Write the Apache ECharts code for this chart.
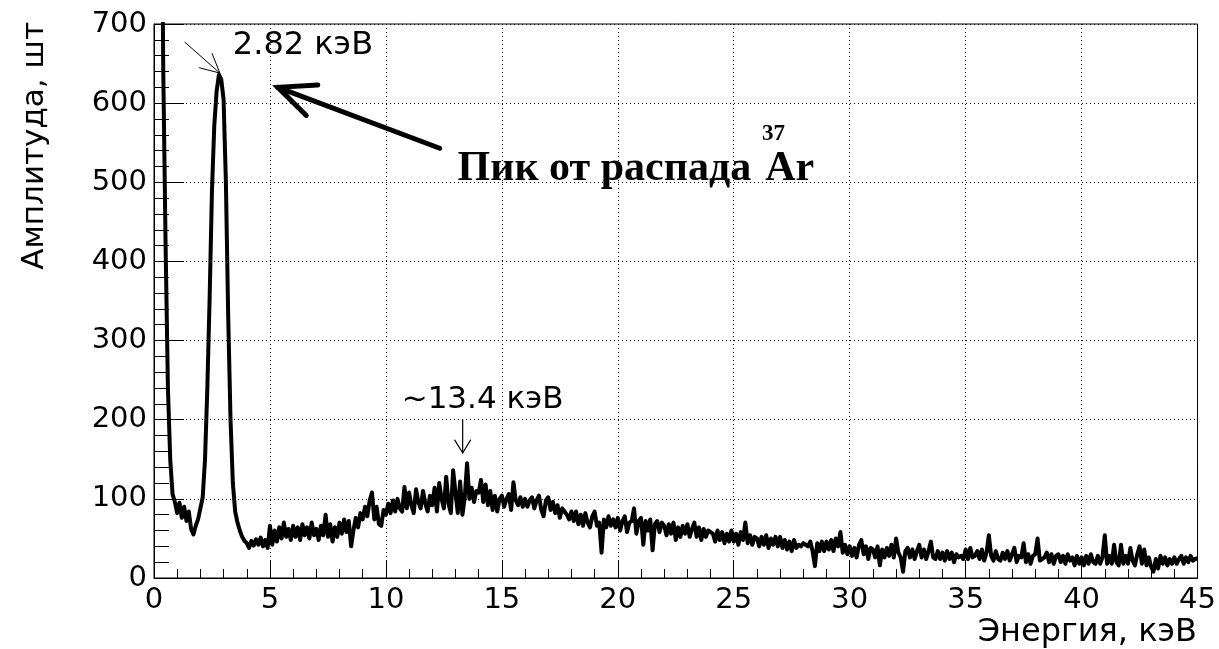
<!DOCTYPE html>
<html><head><meta charset="utf-8">
<script src="https://cdn.jsdelivr.net/npm/echarts/dist/echarts.min.js"></script>
<style>html,body{margin:0;padding:0;background:#fff}#c{width:1219px;height:649px}</style>
</head><body><div id="c"></div>
<script>
// Histogram: bin centres every 0.1 keV starting at 0 keV
const binStart = 0;
const binWidth = 0.1;
const counts = [
  1000, 1000, 1000, 1000, 640, 420, 240, 150, 106, 96,  // 0.0-0.9
  82, 95, 76, 90, 72, 84, 62, 55, 66, 74,               // 1.0-1.9
  88, 102, 150, 240, 355, 490, 572, 615, 636, 630,      // 2.0-2.9
  605, 500, 330, 200, 120, 84, 70, 60, 52, 47,          // 3.0-3.9
  44, 38, 47, 41, 49, 42, 51, 40, 48, 38,               // 4
  66, 42, 60, 46, 64, 50, 70, 52, 62, 48,               // 5
  66, 52, 64, 48, 68, 54, 64, 50, 70, 54,               // 6
  62, 48, 66, 54, 80, 52, 68, 46, 64, 52,               // 7
  70, 56, 74, 58, 72, 40, 60, 76, 64, 82,               // 8
  74, 90, 78, 98, 108, 74, 90, 68, 66, 86,              // 9
  80, 94, 82, 98, 84, 100, 88, 84, 115, 88,             // 10
  108, 92, 82, 112, 96, 88, 110, 94, 84, 104,           // 11
  92, 114, 84, 120, 100, 88, 128, 94, 82, 136,          // 12
  108, 82, 122, 80, 102, 145, 100, 114, 96, 110,        // 13
  108, 124, 96, 118, 92, 110, 86, 104, 84, 100,         // 14
  104, 90, 100, 106, 86, 121, 98, 92, 102, 90,          // 15
  100, 90, 98, 102, 88, 98, 104, 86, 78, 98,            // 16
  102, 86, 96, 82, 92, 76, 88, 84, 80, 74,              // 17
  84, 72, 84, 68, 80, 66, 82, 70, 64, 78,               // 18
  84, 66, 70, 32, 74, 64, 78, 66, 74, 64,               // 19
  76, 60, 72, 78, 58, 70, 72, 88, 56, 72,               // 20
  76, 42, 72, 60, 74, 35, 68, 72, 58, 70,               // 21
  66, 54, 68, 56, 70, 48, 64, 52, 66, 56,               // 22
  68, 52, 62, 70, 52, 64, 48, 62, 52, 60,               // 23
  58, 56, 46, 60, 48, 58, 44, 56, 46, 60,               // 24
  46, 56, 42, 58, 48, 70, 44, 54, 42, 52,               // 25
  50, 40, 52, 42, 54, 38, 50, 42, 52, 40,               // 26
  52, 38, 48, 36, 46, 34, 48, 38, 42, 40,               // 27
  44, 42, 40, 46, 34, 15, 44, 34, 46, 34,               // 28
  46, 36, 48, 34, 50, 40, 58, 32, 42, 30,               // 29
  40, 28, 38, 26, 42, 48, 30, 40, 24, 38,               // 30
  36, 26, 40, 16, 36, 26, 38, 28, 42, 26,               // 31
  50, 32, 26, 8, 34, 38, 26, 36, 24, 34,                // 32
  42, 26, 36, 24, 34, 46, 26, 24, 34, 24,               // 33
  32, 22, 34, 24, 32, 20, 30, 26, 28, 24,               // 34
  36, 24, 38, 26, 28, 34, 24, 36, 22, 32,               // 35
  54, 28, 22, 34, 24, 22, 32, 24, 34, 22,               // 36
  30, 38, 20, 28, 26, 44, 20, 30, 18, 28,               // 37
  30, 50, 22, 24, 26, 32, 20, 30, 18, 28,               // 38
  30, 20, 28, 18, 30, 22, 26, 16, 28, 18,               // 39
  26, 16, 28, 18, 30, 20, 18, 28, 18, 26,               // 40
  54, 18, 28, 18, 42, 20, 16, 42, 18, 28,               // 41
  18, 38, 22, 16, 30, 40, 18, 36, 16, 26,               // 42
  14, 8, 24, 12, 28, 18, 26, 16, 24, 18,                // 43
  26, 18, 24, 28, 18, 26, 20, 28, 22, 24,               // 44
  25                                                    // 45.0
];
const xTitle = 'Энергия, кэВ';
const yTitle = 'Амплитуда, шт';
const peakLabel = '2.82 кэВ';
const bumpLabel = '~13.4 кэВ';
const decayLabel = 'Пик от распада';
const isotopeMass = '37';
const isotopeSymbol = 'Ar';

const SANS = '"DejaVu Sans", "Liberation Sans", sans-serif';
const SERIF = '"Liberation Serif", "DejaVu Serif", serif';

const seriesData = counts.map((c, i) => [+(binStart + i * binWidth).toFixed(2), c]);

const chart = echarts.init(document.getElementById('c'), null, {renderer: 'canvas'});
chart.setOption({
  animation: false,
  backgroundColor: '#fff',
  grid: {left: 154, right: 20, top: 24, bottom: 71, show: true, borderColor: '#000', borderWidth: 1, containLabel: false},
  xAxis: {
    type: 'value', min: 0, max: 45, interval: 5,
    axisLine: {show: true, onZero: false, lineStyle: {color: '#000', width: 1}},
    axisTick: {show: true, inside: true, length: 18, lineStyle: {color: '#000', width: 1}},
    minorTick: {show: true, splitNumber: 5, length: 9, lineStyle: {color: '#000', width: 1}},
    axisLabel: {color: '#000', fontFamily: SANS, fontSize: 29, margin: 8},
    splitLine: {show: true, lineStyle: {color: '#000', width: 1, type: [1, 3]}}
  },
  yAxis: {
    type: 'value', min: 0, max: 700, interval: 100,
    axisLine: {show: true, onZero: false, lineStyle: {color: '#000', width: 1}},
    axisTick: {show: true, inside: true, length: 30, lineStyle: {color: '#000', width: 1}},
    minorTick: {show: true, splitNumber: 5, length: 15, lineStyle: {color: '#000', width: 1}},
    axisLabel: {color: '#000', fontFamily: SANS, fontSize: 29, margin: 7},
    splitLine: {show: true, lineStyle: {color: '#000', width: 1, type: [1, 3]}}
  },
  series: [{
    type: 'line', data: seriesData, showSymbol: false, symbol: 'none',
    clip: true,
    lineStyle: {color: '#000', width: 4, join: 'round'}
  }]
});

// Annotations anchored in data coordinates
function px(p) { return chart.convertToPixel({gridIndex: 0}, p); }
function arrow(tail, tip, headLen, headAng, width) {
  const a = px(tail), b = px(tip);
  const ang = Math.atan2(a[1] - b[1], a[0] - b[0]);
  const h1 = [b[0] + headLen * Math.cos(ang + headAng), b[1] + headLen * Math.sin(ang + headAng)];
  const h2 = [b[0] + headLen * Math.cos(ang - headAng), b[1] + headLen * Math.sin(ang - headAng)];
  return [
    {type: 'polyline', shape: {points: [a, b]}, style: {stroke: '#000', lineWidth: width, fill: null, lineCap: 'round'}, z: 100},
    {type: 'polyline', shape: {points: [h1, b, h2]}, style: {stroke: '#000', lineWidth: width, fill: null, lineCap: 'round', lineJoin: 'miter'}, z: 100}
  ];
}
function label(text, at, font, align) {
  const p = px(at);
  return {type: 'text', x: p[0], y: p[1], z: 100,
    style: {text: text, font: font, fill: '#000', align: align || 'left', verticalAlign: 'middle', textAlign: align || 'left', textVerticalAlign: 'middle'}};
}

const g = [];
g.push(...arrow([1.33, 677], [2.84, 638], 21, 0.47, 1));
g.push(...arrow([12.32, 543], [5.34, 620], 40, 0.42, 5));
g.push(...arrow([13.31, 200], [13.31, 158], 15, 0.55, 1.2));
g.push(label(peakLabel, [3.40, 673], '32px ' + SANS));
g.push(label(bumpLabel, [10.68, 225], '31px ' + SANS));
g.push(label(decayLabel, [13.09, 517], 'bold 42px ' + SERIF));
g.push(label(isotopeMass, [26.22, 561], 'bold 23px ' + SERIF));
g.push(label(isotopeSymbol, [26.36, 517], 'bold 42px ' + SERIF));
// axis titles
g.push({type: 'text', x: 1197, y: 633, z: 100,
  style: {text: xTitle, font: '32px ' + SANS, fill: '#000', align: 'right', verticalAlign: 'middle', textAlign: 'right', textVerticalAlign: 'middle'}});
g.push({type: 'text', x: 35, y: 22, rotation: Math.PI / 2, z: 100,
  style: {text: yTitle, font: '31px ' + SANS, fill: '#000', align: 'right', verticalAlign: 'middle', textAlign: 'right', textVerticalAlign: 'middle'}});

chart.setOption({graphic: {elements: g}});
</script>
</body></html>
